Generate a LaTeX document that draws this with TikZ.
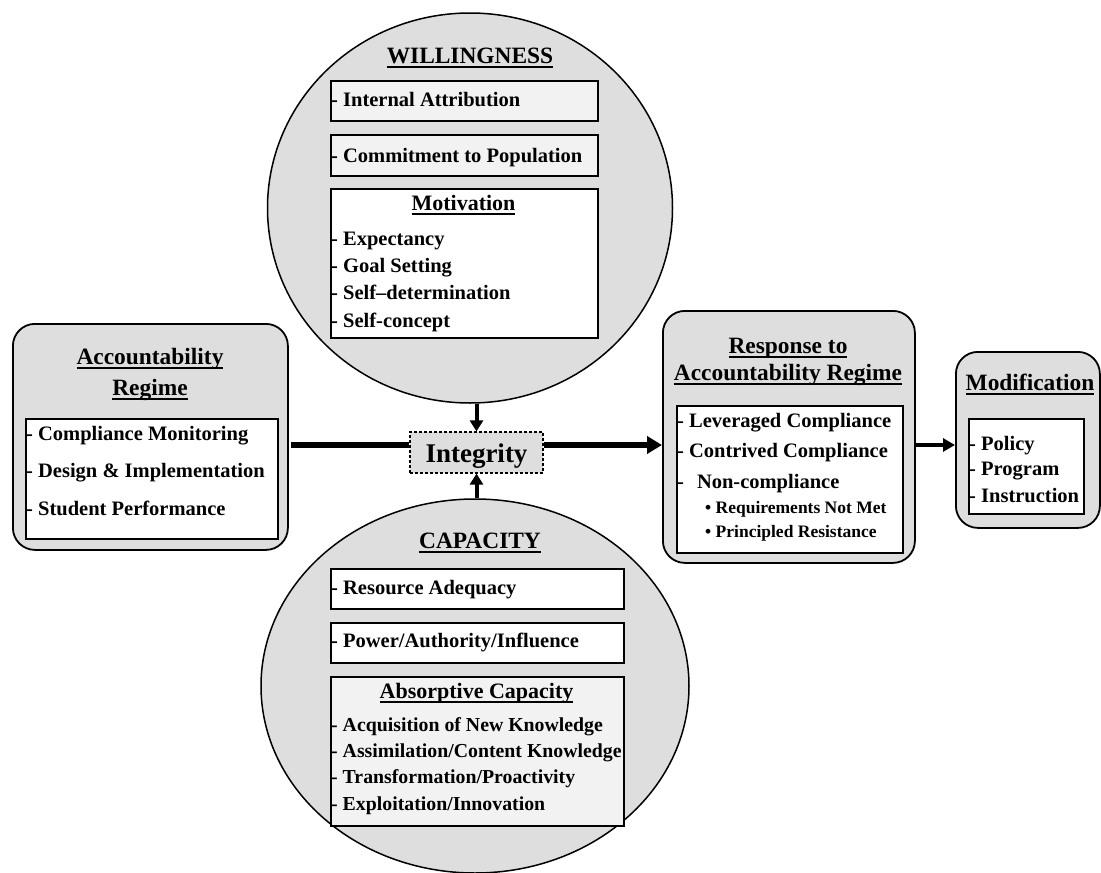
\documentclass[tikz,border=0pt]{standalone}
\usepackage{fontspec}
\setmainfont{Liberation Serif}
\usetikzlibrary{shapes.geometric,arrows.meta}
\definecolor{bg}{HTML}{DEDEDE}
\definecolor{lt}{HTML}{F2F2F2}
\newcommand\ulx[1]{\setbox0\hbox{#1}\rlap{\rule[-4.6pt]{\wd0}{1.4pt}}\box0}
\tikzset{
 fs/.style={font=\fontsize{#1}{#1}\selectfont\bfseries},
 itm/.style={fs=20.5, anchor=base west, inner sep=0pt},
 itms/.style={fs=19.8, anchor=base west, inner sep=0pt},
 ttl/.style={fs=23.4, anchor=base, inner sep=0pt},
 sub/.style={fs=22, anchor=base, inner sep=0pt},
 sml/.style={fs=17.5, anchor=base west, inner sep=0pt},
 frame/.style={draw, line width=1.8pt, inner sep=0pt, anchor=north west},
 rbox/.style={draw, line width=1.8pt, fill=bg, rounded corners=22pt, inner sep=0pt, anchor=north west},
 oval/.style={ellipse, draw, line width=1.5pt, fill=bg, inner sep=0pt},
 big/.style={line width=5.5pt},
 bigtip/.style={-{Triangle[length=15pt,width=17pt]}},
 vert/.style={line width=4pt, -{Triangle[length=11pt,width=13pt]}},
}
\begin{document}
\begin{tikzpicture}[x=1pt,y=-1pt]
\useasboundingbox (0,0) rectangle (1101,873);
% ovals
\node[oval, minimum width=405pt, minimum height=390pt] (will) at (470,208) {};
\node[oval, minimum width=428pt, minimum height=374pt] (cap) at (475,686) {};
% outer rounded boxes
\node[rbox, minimum width=275pt, minimum height=226pt] (acc) at (12,323) {};
\node[rbox, minimum width=252pt, minimum height=252pt] (resp) at (662,310) {};
\node[rbox, minimum width=144pt, minimum height=176pt] (mod) at (955,351) {};
% inner boxes
\node[frame, fill=lt, minimum width=267pt, minimum height=40pt] (ia) at (330,80) {};
\node[frame, fill=lt, minimum width=267pt, minimum height=41pt] (cp) at (330,134) {};
\node[frame, fill=white, minimum width=267pt, minimum height=149pt] (mot) at (330,188) {};
\node[frame, fill=white, minimum width=293pt, minimum height=40pt] (ra) at (330,568) {};
\node[frame, fill=white, minimum width=293pt, minimum height=40pt] (pai) at (330,622) {};
\node[frame, fill=lt, minimum width=293pt, minimum height=149pt] (abs) at (330,676) {};
\node[frame, fill=white, minimum width=252pt, minimum height=120pt] (accin) at (25,418) {};
\node[frame, fill=white, minimum width=226pt, minimum height=147pt] (respin) at (676,405) {};
\node[frame, fill=white, minimum width=115pt, minimum height=95pt] (modin) at (968,418) {};
% willingness texts
\node[ttl] (tw) at (470,63) {\ulx{WILLINGNESS}};
\node[itm] (tia) at (331,106) {- Internal Attribution};
\node[itm] (tcp) at (331,162) {- Commitment to Population};
\node[sub] (tm) at (463.5,210) {\ulx{Motivation}};
\node[itm] (m1) at (331,245) {- Expectancy};
\node[itm] (m2) at (331,272) {- Goal Setting};
\node[itm] (m3) at (331,299) {- Self--determination};
\node[itm] (m4) at (331,327) {- Self-concept};
% capacity texts
\node[ttl] (tc) at (480,548) {\ulx{CAPACITY}};
\node[itm] (tra) at (331,594) {- Resource Adequacy};
\node[itm] (tpai) at (331,647) {- Power/Authority/Influence};
\node[sub] (tabs) at (476.5,698) {\ulx{Absorptive Capacity}};
\node[itms] (a1) at (331,731) {- Acquisition of New Knowledge};
\node[itms] (a2) at (331,757) {- Assimilation/Content Knowledge};
\node[itms] (a3) at (331,783) {- Transformation/Proactivity};
\node[itms] (a4) at (331,810) {- Exploitation/Innovation};
% accountability regime
\node[ttl] (ta1) at (150,364) {\ulx{Accountability}};
\node[ttl] (ta2) at (150,395) {\ulx{Regime}};
\node[itm] (c1) at (26,440) {- Compliance Monitoring};
\node[itm] (c2) at (26,477) {- Design \& Implementation};
\node[itm] (c3) at (26,515) {- Student Performance};
% response
\node[ttl] (tr1) at (788,353) {\ulx{Response to}};
\node[ttl] (tr2) at (788,380) {\ulx{Accountability Regime}};
\node[itm] (r1) at (677,427) {- Leveraged Compliance};
\node[itm] (r2) at (677,457) {- Contrived Compliance};
\node[itm] (r3) at (677,488) {-\hspace{13pt}Non-compliance};
\node[sml] (r4) at (705,513) {\textbullet\ Requirements Not Met};
\node[sml] (r5) at (705,537) {\textbullet\ Principled Resistance};
% modification
\node[ttl] (tmod) at (1030,390) {\ulx{Modification}};
\node[itm] (p1) at (969,450) {- Policy};
\node[itm] (p2) at (969,475) {- Program};
\node[itm] (p3) at (969,502) {- Instruction};
% integrity
\node[draw, dash pattern=on 3pt off 2pt, fill=bg, line width=1.2pt, minimum width=133pt, minimum height=41pt, inner sep=0pt] (integ) at (476.5,452.5) {};
\node[fs=27, anchor=base, inner sep=0pt] (tint) at (476.5,462) {Integrity};
% connectors
\coordinate (l1) at (291,445);
\draw[big] (l1) -- (l1 -| integ.west);
\draw[big, bigtip] (l1 -| integ.east) -- (l1 -| resp.west);
\draw[line width=4.5pt, -{Triangle[length=12pt,width=13pt]}] (l1 -| resp.east) -- (l1 -| mod.west);
\draw[vert] (integ.north |- will.south) -- (integ.north);
\draw[vert] (integ.south |- cap.north) -- (integ.south);
\end{tikzpicture}
\end{document}
